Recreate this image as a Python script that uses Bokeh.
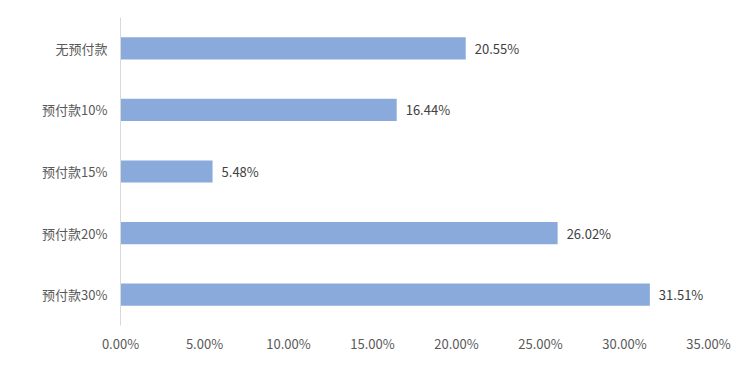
from bokeh.plotting import figure
from bokeh.models import ColumnDataSource, FactorRange, FixedTicker, NumeralTickFormatter, Range1d
from bokeh.core.properties import value
from bokeh.embed import file_html
from bokeh.resources import INLINE

categories = ["无预付款", "预付款10%", "预付款15%", "预付款20%", "预付款30%"]
shares = [0.2055, 0.1644, 0.0548, 0.2602, 0.3151]
share_labels = ["20.55%", "16.44%", "5.48%", "26.02%", "31.51%"]
x_ticks = [0.0, 0.05, 0.10, 0.15, 0.20, 0.25, 0.30, 0.35]

src = ColumnDataSource(dict(cat=categories, v=shares, lab=share_labels))

FONT = "Noto Sans CJK SC"

p = figure(width=736, height=360, output_backend="svg", toolbar_location=None,
           y_range=FactorRange(*list(reversed(categories))),
           x_range=Range1d(0, 0.35))
p.min_border_left = 120
p.min_border_right = 28
p.min_border_top = 17
p.min_border_bottom = 35
p.outline_line_color = None
p.background_fill_color = "white"
p.border_fill_color = "white"

p.hbar(y="cat", right="v", left=0, height=0.36, source=src,
       fill_color="#8aaadc", line_color=None)

p.text(x="v", y="cat", text="lab", source=src, x_offset=9,
       text_align="left", text_baseline="middle",
       text_font=value(FONT), text_font_size="13px", text_color="#404040")

p.xgrid.visible = False
p.ygrid.visible = False

xa = p.xaxis[0]
xa.ticker = FixedTicker(ticks=x_ticks)
xa.formatter = NumeralTickFormatter(format="0.00%")
xa.axis_line_color = None
xa.major_tick_line_color = None
xa.minor_tick_line_color = None
xa.major_label_standoff = 2
xa.major_label_text_font = FONT
xa.major_label_text_font_size = "13px"
xa.major_label_text_color = "#595959"

ya = p.yaxis[0]
ya.axis_line_color = "#d9d9d9"
ya.major_tick_line_color = None
ya.minor_tick_line_color = None
ya.major_label_standoff = 7
ya.major_label_text_font = FONT
ya.major_label_text_font_size = "13px"
ya.major_label_text_color = "#595959"

open("out.html", "w").write(file_html(p, INLINE))
